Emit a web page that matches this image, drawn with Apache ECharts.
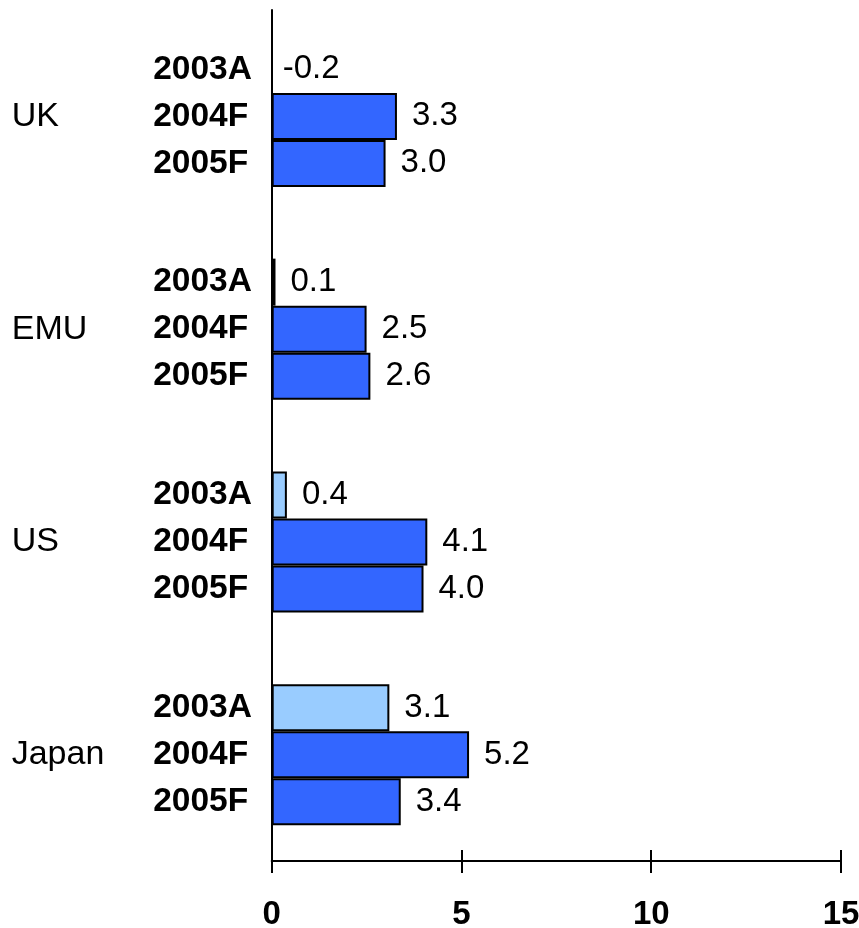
<!DOCTYPE html>
<html>
<head>
<meta charset="utf-8">
<script src="https://cdn.jsdelivr.net/npm/echarts@6/dist/echarts.min.js"></script>
<style>
html,body{margin:0;padding:0;background:#fff;}
#chart{width:859px;height:928px;}
</style>
</head>
<body>
<div id="chart"></div>
<script>
var countries = ['UK', 'EMU', 'US', 'Japan'];
var years = ['2003A', '2004F', '2005F'];
var values2003A = [-0.2, 0.1, 0.4, 3.1];
var values2004F = [3.3, 2.5, 4.1, 5.2];
var values2005F = [3.0, 2.6, 4.0, 3.4];
var xTicks = [0, 5, 10, 15];

var FONT = '"Liberation Sans", Arial, sans-serif';
var chart = echarts.init(document.getElementById('chart'), null, {renderer: 'canvas'});

function mkSeries(name, vals, color) {
  return {
    name: name,
    type: 'bar',
    xAxisIndex: 0,
    yAxisIndex: 0,
    barWidth: 47,
    barGap: '0%',
    clip: false,
    data: vals.map(function (v) {
      if (v < 0) {
        return {value: v, itemStyle: {color: 'rgba(0,0,0,0)', borderWidth: 0}, label: {opacity: 1, distance: 11}};
      }
      return v;
    }),
    itemStyle: {color: color, borderColor: '#000', borderWidth: 2},
    label: {
      show: true,
      position: 'right',
      distance: 15,
      color: '#000',
      fontFamily: FONT,
      fontSize: 33,
      formatter: function (p) { return p.value.toFixed(1); }
    }
  };
}

chart.setOption({
  animation: false,
  backgroundColor: '#fff',
  grid: {left: 271.7, right: 18, top: 10, bottom: 67, containLabel: false, outerBoundsMode: 'none'},
  xAxis: [{
    type: 'value', min: xTicks[0], max: xTicks[xTicks.length - 1], interval: 5,
    position: 'bottom',
    axisLine: {show: true, lineStyle: {color: '#000', width: 2}},
    axisTick: {show: true, length: 12, lineStyle: {color: '#000', width: 2}},
    splitLine: {show: false},
    axisLabel: {color: '#000', fontFamily: FONT, fontWeight: 'bold', fontSize: 33, margin: 37, showMaxLabel: true, showMinLabel: true}
  }, {
    type: 'value', min: xTicks[0], max: xTicks[xTicks.length - 1], interval: 5,
    position: 'bottom',
    axisLine: {show: false},
    axisTick: {show: true, inside: true, length: 11, lineStyle: {color: '#000', width: 2}},
    splitLine: {show: false},
    axisLabel: {show: false}
  }],
  yAxis: [{
    type: 'category', inverse: true, data: countries,
    axisLine: {show: true, lineStyle: {color: '#000', width: 2}},
    axisTick: {show: false},
    axisLabel: {color: '#000', fontFamily: FONT, fontSize: 34, align: 'left', margin: 260}
  }, {
    type: 'category', inverse: true, data: countries, position: 'left',
    axisLine: {show: false},
    axisTick: {show: false},
    axisLabel: {
      color: '#000', fontFamily: FONT, fontWeight: 'bold', fontSize: 33.5, lineHeight: 47,
      align: 'left', margin: 118.5,
      formatter: function () { return years.join('\n'); }
    }
  }],
  series: [
    mkSeries(years[0], values2003A, '#99CCFF'),
    mkSeries(years[1], values2004F, '#3366FF'),
    mkSeries(years[2], values2005F, '#3366FF')
  ]
});
</script>
</body>
</html>
